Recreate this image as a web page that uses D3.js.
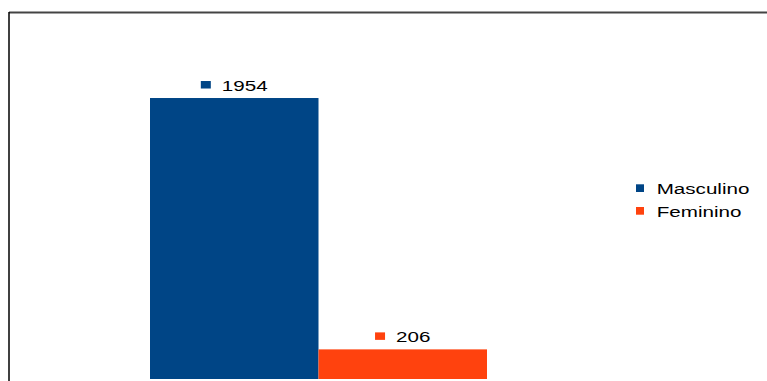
<!DOCTYPE html>
<head>
    <meta charset="utf-8">
    <title>Masculino / Feminino</title>
    <script src="https://d3js.org/d3.v7.min.js"></script>
</head>
<style>
body {
  margin: 0;
  background: #fff;
  font-family: "Liberation Sans", Arial, Helvetica, sans-serif;
}
text {
  fill: #000;
  font-size: 15.5px;
}
</style>
<body>
    <svg></svg>
</body>

<script>

    // Data
    var series = ["Masculino", "Feminino"];
    var values = [1954, 206];
    var colors = ["#004586", "#ff420e"];

    var width = 767;
    var height = 381;
    var sx = 1.33; // the original text looks stretched sideways

    var svg = d3.select("svg")
        .attr("width", width)
        .attr("height", height);

    // frame: top and left lines only
    svg.append("line")
        .attr("x1", 9).attr("x2", width)
        .attr("y1", 12.5).attr("y2", 12.5)
        .style("stroke", "#444").style("stroke-width", 2);
    svg.append("line")
        .attr("x1", 9).attr("x2", 9)
        .attr("y1", 12).attr("y2", height)
        .style("stroke", "#000").style("stroke-width", 1.5);

    var x = d3.scaleBand()
        .domain(series)
        .range([150, 487])
        .padding(0);

    var y = d3.scaleLinear()
        .domain([0, 2500])
        .range([379, 19.5]);

    var color = d3.scaleOrdinal().domain(series).range(colors);

    var data = series.map(function (s, i) { return { name: s, value: values[i] }; });

    svg.selectAll(".bar")
        .data(data)
        .enter().append("rect")
        .attr("class", "bar")
        .attr("x", function (d) { return x(d.name); })
        .attr("width", x.bandwidth())
        .attr("y", function (d) { return y(d.value); })
        .attr("height", function (d) { return y(0) - y(d.value); })
        .style("fill", function (d) { return color(d.name); });

    // value labels: small key square + number, centred over the bar
    var lab = svg.selectAll(".lab")
        .data(data)
        .enter().append("g").attr("class", "lab");

    lab.each(function (d) {
        var g = d3.select(this);
        var base = y(d.value) - 7;
        var t = g.append("text").text(d.value);
        var tw = t.node().getComputedTextLength() * sx;
        var total = 10 + 11 + tw;
        var cx = x(d.name) + x.bandwidth() / 2;
        var left = cx - total / 2;
        g.append("rect")
            .attr("x", left).attr("y", base - 10)
            .attr("width", 10).attr("height", 7.5)
            .style("fill", color(d.name));
        t.attr("transform", "translate(" + (left + 21) + "," + base + ") scale(" + sx + ",1)");
    });

    // legend
    var legend = svg.selectAll(".legend")
        .data(series)
        .enter().append("g")
        .attr("class", "legend")
        .attr("transform", function (d, i) { return "translate(636," + (194 + i * 22.7) + ")"; });

    legend.append("rect")
        .attr("x", 0).attr("y", -9.7)
        .attr("width", 8).attr("height", 7.7)
        .style("fill", function (d) { return color(d); });

    legend.append("text")
        .attr("transform", "translate(20.7,0) scale(" + sx + ",1)")
        .text(function (d) { return d; });

</script>
